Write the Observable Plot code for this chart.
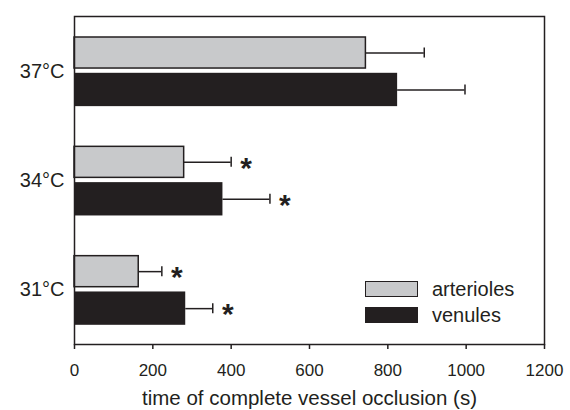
<!DOCTYPE html>
<html>
<head>
<meta charset="utf-8">
<script src="https://cdn.jsdelivr.net/npm/d3@7"></script>
<script src="https://cdn.jsdelivr.net/npm/@observablehq/plot@0.6"></script>
<style>
  body { margin: 0; background: #fff; }
  #chart { position: relative; width: 570px; height: 410px; font-family: "Liberation Sans", Arial, sans-serif; color: #231f20; }
  .legend { position: absolute; left: 365px; top: 276px; }
  .legend .row { display: flex; align-items: center; height: 26px; font-size: 20px; }
  .legend .sw { width: 53px; height: 16px; box-sizing: border-box; margin-right: 14px; }
</style>
</head>
<body>
<div id="chart"></div>
<script>
// Temperatures (rows, top to bottom)
const temps = ["37°C", "34°C", "31°C"];

// Mean time to complete occlusion (s) and upper error (s)
const arterioles = [744, 280, 164];
const arteriolesErr = [149, 120, 59];
const venules = [825, 379, 284];
const venulesErr = [172, 120, 69];

// Significant difference vs 37°C
const arteriolesSig = [false, true, true];
const venulesSig = [false, true, true];

const xTicks = [0, 200, 400, 600, 800, 1000, 1200];
const seriesNames = ["arterioles", "venules"];
const xLabel = "time of complete vessel occlusion (s)";

const ink = "#231f20";
const light = "#c8c9cb";

const art = temps.map((t, i) => ({temp: t, mean: arterioles[i], hi: arterioles[i] + arteriolesErr[i], sig: arteriolesSig[i]}));
const ven = temps.map((t, i) => ({temp: t, mean: venules[i], hi: venules[i] + venulesErr[i], sig: venulesSig[i]}));

const chart = Plot.plot({
  width: 570,
  height: 410,
  marginLeft: 74,
  marginRight: 26,
  marginTop: 16,
  marginBottom: 66,
  style: {fontFamily: "'Liberation Sans', Arial, sans-serif", color: ink, background: "#fff"},
  x: {domain: [0, 1200]},
  y: {domain: temps, padding: 0, round: false},
  marks: [
    // arterioles: upper half of each band
    Plot.barX(art, {x: "mean", y: "temp", fill: light, stroke: ink, strokeWidth: 1.5, insetTop: 21, insetBottom: 57.3}),
    Plot.ruleY(art, {x1: "mean", x2: "hi", y: "temp", dy: -18.2, stroke: ink, strokeWidth: 1.5}),
    Plot.tickX(art, {x: "hi", y: "temp", insetTop: 31.5, insetBottom: 67.8, stroke: ink, strokeWidth: 1.5}),
    Plot.text(art, {filter: "sig", x: "hi", y: "temp", text: () => "*", dx: 15, dy: -18.2 + 6, fontSize: 30, fontWeight: "bold", fill: ink}),
    // venules: lower half of each band
    Plot.barX(ven, {x: "mean", y: "temp", fill: ink, insetTop: 56.8, insetBottom: 19.2}),
    Plot.ruleY(ven, {x1: "mean", x2: "hi", y: "temp", dy: 18.8, stroke: ink, strokeWidth: 1.5}),
    Plot.tickX(ven, {x: "hi", y: "temp", insetTop: 68.5, insetBottom: 30.8, stroke: ink, strokeWidth: 1.5}),
    Plot.text(ven, {filter: "sig", x: "hi", y: "temp", text: () => "*", dx: 15, dy: 18.8 + 6, fontSize: 30, fontWeight: "bold", fill: ink}),
    Plot.axisX({ticks: xTicks, tickFormat: d3.format("d"), tickSize: 5, tickPadding: 14, fontSize: 17, label: null, stroke: ink, strokeWidth: 1.5}),
    Plot.axisY({tickSize: 0, tickPadding: 10, fontSize: 20, label: null}),
    Plot.text([xLabel], {frameAnchor: "bottom", lineAnchor: "top", dy: 46, fontSize: 20.5, fill: ink}),
    Plot.frame({stroke: ink, strokeWidth: 1.5})
  ]
});

const root = document.getElementById("chart");
root.appendChild(chart);

// Legend inside the plot area
const legend = document.createElement("div");
legend.className = "legend";
const swatchStyles = [
  {background: light, border: `1.5px solid ${ink}`},
  {background: ink, border: "none"}
];
seriesNames.forEach((name, i) => {
  const row = document.createElement("div");
  row.className = "row";
  const sw = document.createElement("div");
  sw.className = "sw";
  Object.assign(sw.style, swatchStyles[i]);
  const label = document.createElement("span");
  label.textContent = name;
  row.appendChild(sw);
  row.appendChild(label);
  legend.appendChild(row);
});
root.appendChild(legend);
</script>
</body>
</html>
